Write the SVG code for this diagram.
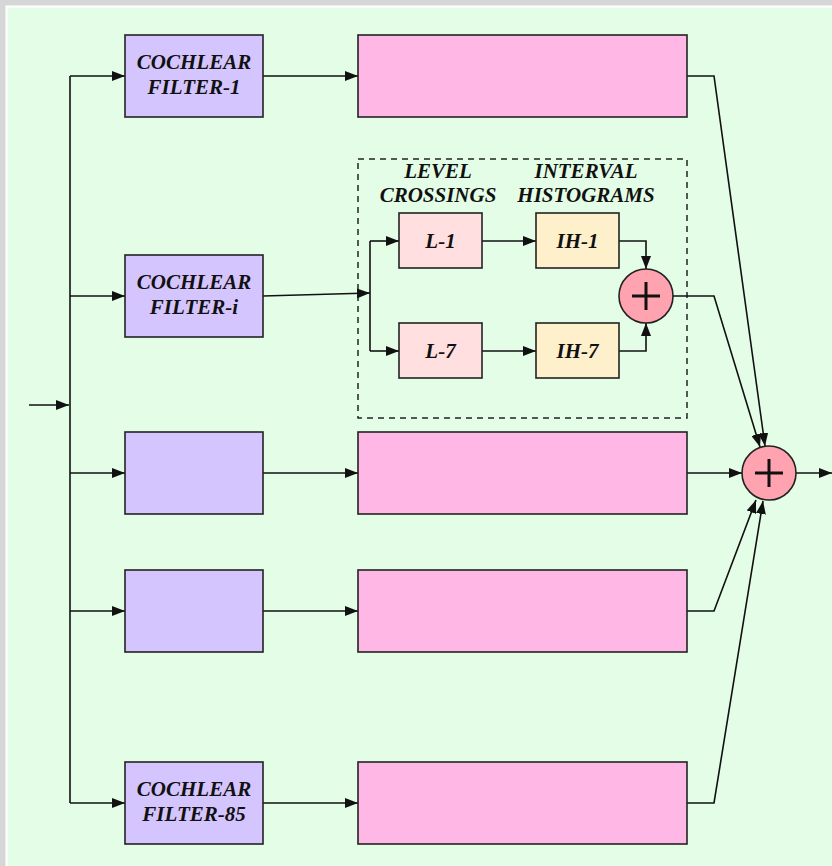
<svg xmlns="http://www.w3.org/2000/svg" width="832" height="866" viewBox="0 0 832 866">
  <defs>
    <marker id="arrow" viewBox="0 0 13 10" refX="13" refY="5" markerWidth="13" markerHeight="10" markerUnits="userSpaceOnUse" orient="auto">
      <path d="M0,0 L13,5 L0,10 Z" fill="#111"/>
    </marker>
    <style>
      .box { stroke: #222; stroke-width: 1.6; }
      .filter { fill: #d5c5ff; }
      .stage { fill: #ffb8e6; }
      .lc { fill: #ffdfdf; }
      .ih { fill: #fff0cc; }
      .sum { fill: #ffa3b1; stroke: #222; stroke-width: 1.6; }
      .plus { stroke: #111; stroke-width: 3; fill: none; }
      .wire { fill: none; stroke: #111; stroke-width: 1.6; }
      .arr { marker-end: url(#arrow); }
      .lbl { font-family: "Liberation Serif", "Times New Roman", serif; font-weight: bold; font-style: italic; font-size: 21px; fill: #111; text-anchor: middle; }
    </style>
  </defs>

  <!-- page frame -->
  <rect x="0" y="0" width="832" height="866" fill="#d6d6d6"/>
  <rect x="5.5" y="5.5" width="840" height="880" fill="#ffffff"/>
  <rect x="7.5" y="7.5" width="840" height="880" fill="#e4fde6"/>

  <!-- dashed sub-system frame -->
  <rect id="subsystem" x="358" y="159" width="329" height="259" fill="none" stroke="#222" stroke-width="1.5" stroke-dasharray="6,5"/>

  <g id="connectors">
    <!-- input and distribution bus -->
    <line class="wire arr" x1="29" y1="405" x2="69" y2="405"/>
    <line class="wire" x1="70" y1="76" x2="70" y2="803"/>
    <line class="wire arr" x1="70" y1="76" x2="125" y2="76"/>
    <line class="wire arr" x1="70" y1="296" x2="125" y2="296"/>
    <line class="wire arr" x1="70" y1="473" x2="125" y2="473"/>
    <line class="wire arr" x1="70" y1="611" x2="125" y2="611"/>
    <line class="wire arr" x1="70" y1="803" x2="125" y2="803"/>

    <!-- filter to stage -->
    <line class="wire arr" x1="263" y1="76" x2="358" y2="76"/>
    <line class="wire arr" x1="263" y1="296" x2="370" y2="293"/>
    <line class="wire arr" x1="263" y1="473" x2="358" y2="473"/>
    <line class="wire arr" x1="263" y1="611" x2="358" y2="611"/>
    <line class="wire arr" x1="263" y1="803" x2="358" y2="803"/>

    <!-- inside sub-system -->
    <line class="wire" x1="370" y1="241" x2="370" y2="351"/>
    <line class="wire arr" x1="370" y1="241" x2="399" y2="241"/>
    <line class="wire arr" x1="370" y1="351" x2="399" y2="351"/>
    <line class="wire arr" x1="482" y1="241" x2="536" y2="241"/>
    <line class="wire arr" x1="482" y1="351" x2="536" y2="351"/>
    <polyline class="wire arr" points="619,241 646,241 646,269"/>
    <polyline class="wire arr" points="619,351 646,351 646,323"/>

    <!-- stage outputs to final sum -->
    <polyline class="wire arr" points="687,76 714,76 765,446"/>
    <polyline class="wire arr" points="673,296 714,296 760,447"/>
    <line class="wire arr" x1="687" y1="473" x2="742" y2="473"/>
    <polyline class="wire arr" points="687,611 714,611 756,500"/>
    <polyline class="wire arr" points="687,803 714,803 763,501"/>
    <line class="wire arr" x1="796" y1="473" x2="832" y2="473"/>
  </g>

  <!-- cochlear filters -->
  <g id="filter-1">
    <rect class="box filter" x="125" y="35" width="138" height="82"/>
    <text class="lbl" x="194" y="69">COCHLEAR</text>
    <text class="lbl" x="194" y="94">FILTER-1</text>
  </g>
  <g id="filter-i">
    <rect class="box filter" x="125" y="255" width="138" height="82"/>
    <text class="lbl" x="194" y="289">COCHLEAR</text>
    <text class="lbl" x="194" y="314">FILTER-i</text>
  </g>
  <g id="filter-3">
    <rect class="box filter" x="125" y="432" width="138" height="82"/>
  </g>
  <g id="filter-4">
    <rect class="box filter" x="125" y="570" width="138" height="82"/>
  </g>
  <g id="filter-85">
    <rect class="box filter" x="125" y="762" width="138" height="82"/>
    <text class="lbl" x="194" y="796">COCHLEAR</text>
    <text class="lbl" x="194" y="821">FILTER-85</text>
  </g>

  <!-- processing stages -->
  <g id="stage-1"><rect class="box stage" x="358" y="35" width="329" height="82"/></g>
  <g id="stage-3"><rect class="box stage" x="358" y="432" width="329" height="82"/></g>
  <g id="stage-4"><rect class="box stage" x="358" y="570" width="329" height="82"/></g>
  <g id="stage-85"><rect class="box stage" x="358" y="762" width="329" height="82"/></g>

  <!-- sub-system headings -->
  <g id="heading-level">
    <text class="lbl" x="438" y="178">LEVEL</text>
    <text class="lbl" x="438" y="202">CROSSINGS</text>
  </g>
  <g id="heading-interval">
    <text class="lbl" x="586" y="178">INTERVAL</text>
    <text class="lbl" x="586" y="202">HISTOGRAMS</text>
  </g>

  <g id="l-1">
    <rect class="box lc" x="399" y="213" width="83" height="55"/>
    <text class="lbl" x="440.5" y="248">L-1</text>
  </g>
  <g id="l-7">
    <rect class="box lc" x="399" y="323" width="83" height="55"/>
    <text class="lbl" x="440.5" y="358">L-7</text>
  </g>
  <g id="ih-1">
    <rect class="box ih" x="536" y="213" width="83" height="55"/>
    <text class="lbl" x="577.5" y="248">IH-1</text>
  </g>
  <g id="ih-7">
    <rect class="box ih" x="536" y="323" width="83" height="55"/>
    <text class="lbl" x="577.5" y="358">IH-7</text>
  </g>

  <g id="sum-channel">
    <circle class="sum" cx="646" cy="296" r="27"/>
    <path class="plus" d="M632,296 H660 M646,282 V310"/>
  </g>

  <g id="sum-total">
    <circle class="sum" cx="769" cy="473" r="27"/>
    <path class="plus" d="M755,473 H783 M769,459 V487"/>
  </g>
</svg>
